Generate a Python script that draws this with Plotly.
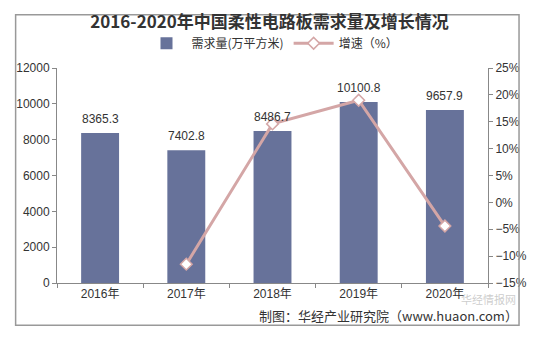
import plotly.graph_objects as go

years = ["2016年", "2017年", "2018年", "2019年", "2020年"]
demand = [8365.3, 7402.8, 8486.7, 10100.8, 9657.9]
growth_years = ["2017年", "2018年", "2019年", "2020年"]
growth = [-11.5, 14.6, 19.0, -4.4]

bar_color = "#67729A"
line_color = "#D4A6A6"
font_main = "Liberation Sans, Arial, Noto Sans CJK SC, sans-serif"

fig = go.Figure()
fig.add_trace(go.Bar(
    x=years, y=demand, name="需求量(万平方米)",
    marker=dict(color=bar_color, line=dict(width=0)),
))
fig.add_trace(go.Scatter(
    x=growth_years, y=growth, name="增速（%）", yaxis="y2",
    mode="lines+markers",
    line=dict(color=line_color, width=3),
    marker=dict(symbol="diamond", size=9, color="white",
                line=dict(color=line_color, width=1.5)),
))

# value labels placed above each bar
value_labels = [
    dict(x=yr, y=v, xref="x", yref="y", text=f"{v:.1f}", showarrow=False,
         yanchor="bottom", yshift=5,
         font=dict(size=12, color="#333333", family=font_main))
    for yr, v in zip(years, demand)
]

fig.update_layout(
    width=539, height=339,
    margin=dict(l=57, r=46, t=68, b=56),
    paper_bgcolor="white", plot_bgcolor="white",
    font=dict(family=font_main, size=12, color="#333333"),
    title=dict(text="<b>2016-2020年中国柔性电路板需求量及增长情况</b>",
               x=0.5, xanchor="center", y=0.935, yanchor="middle",
               font=dict(family="Noto Sans CJK SC", size=17, color="#333333")),
    legend=dict(orientation="h", x=0.5, xanchor="center", y=1.115, yanchor="middle",
                font=dict(size=12, family="Noto Sans CJK SC", color="#333333"),
                itemwidth=40, bgcolor="rgba(0,0,0,0)"),
    bargap=0.56,
    xaxis=dict(showline=True, linecolor="#888888", linewidth=1,
               ticks="outside", tickcolor="#888888", ticklen=4,
               tickson="boundaries", showgrid=False,
               tickfont=dict(size=12, family="Liberation Sans, Noto Sans CJK SC")),
    yaxis=dict(range=[0, 12000], dtick=2000, tickformat="d", showline=True,
               linecolor="#888888", ticks="outside", tickcolor="#888888",
               ticklen=4, showgrid=False, zeroline=False, tickfont=dict(size=12)),
    yaxis2=dict(range=[-15, 25], dtick=5, overlaying="y", side="right",
                showline=True, linecolor="#888888", ticks="outside",
                tickcolor="#888888", ticklen=4, showgrid=False, zeroline=False,
                ticksuffix="%", tickfont=dict(size=12)),
    shapes=[dict(type="rect", xref="paper", yref="paper",
                 x0=-0.096, x1=1.072, y0=-0.197, y1=1.248,
                 line=dict(color="#999999", width=1.5))],
    annotations=value_labels + [
        dict(text="华经情报网", x=1.07, y=-0.075, xref="paper", yref="paper",
             xanchor="right", yanchor="middle", showarrow=False,
             font=dict(size=11, color="rgba(170,170,170,0.6)", family="Noto Sans CJK SC")),
        dict(text="制图：华经产业研究院（www.huaon.com）", x=1.075, y=-0.15,
             xref="paper", yref="paper", xanchor="right", yanchor="middle",
             showarrow=False,
             font=dict(size=13, color="#333333", family="Noto Sans CJK SC")),
    ],
)

fig.write_html("out.html")
